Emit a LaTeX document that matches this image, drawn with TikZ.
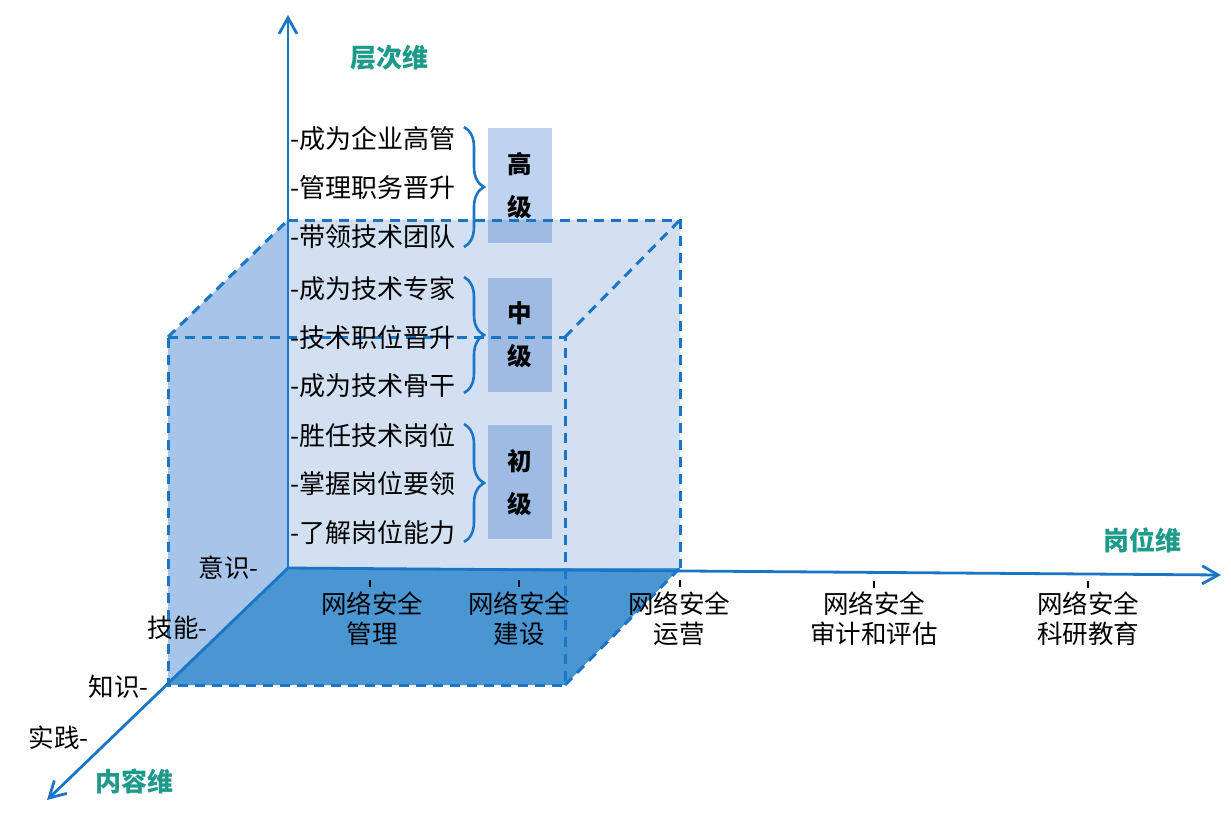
\documentclass[tikz,border=0pt]{standalone}
\usepackage{fontspec}
\setmainfont{Noto Sans CJK SC}
\usetikzlibrary{decorations.pathreplacing,arrows.meta}
\definecolor{axisblue}{HTML}{1A75C6}
\definecolor{backface}{HTML}{D3E0F2}
\definecolor{leftface}{HTML}{A7C5E8}
\definecolor{bottomface}{HTML}{4A96D2}
\definecolor{boxlight}{HTML}{BED3EE}
\definecolor{boxdark}{HTML}{9DBBE3}
\definecolor{axisteal}{HTML}{1E9A8B}
\begin{document}
\begin{tikzpicture}[x=1pt,y=-1pt,
  axisline/.style={draw=axisblue, line width=2.8pt, -{Straight Barb[length=16pt,width=18pt,line width=2.8pt]}},
  cubeedge/.style={draw=axisblue, line width=3pt, dash pattern=on 10pt off 7pt},
  item/.style={anchor=west, inner sep=0pt, font=\fontsize{26}{30}\selectfont},
  sidelabel/.style={anchor=east, inner sep=0pt, font=\fontsize{25.5}{30}\selectfont},
  ticklabel/.style={anchor=north, inner sep=0pt, align=center, font=\fontsize{25.5}{30}\selectfont},
  dimlabel/.style={inner sep=0pt, text=axisteal, font=\fontsize{26}{30}\selectfont\bfseries},
  levelbox/.style={inner sep=0pt, align=center, font=\fontsize{24.5}{43}\selectfont\bfseries},
  bracket/.style={draw=axisblue, line width=2.6pt, decorate, decoration={brace, amplitude=20pt}},
  tickmark/.style={draw=black, line width=2.4pt}
]
\useasboundingbox (0,0) rectangle (1231,819);

% key points
\coordinate (O) at (288,568);
\coordinate (ztip) at (288,15);
\coordinate (xtip) at (1221,575);
\coordinate (ytip) at (47,800);
\coordinate (btl) at (288,220);
\coordinate (btr) at (680,220);
\coordinate (bbr) at (680,568);
\coordinate (ftl) at (168,337);
\coordinate (ftr) at (565,337);
\coordinate (fbl) at (168,685);
\coordinate (fbr) at (565,685);

% faces
\fill[backface] (btl) -- (btr) -- (bbr) -- (O) -- cycle;
\fill[leftface] (btl) -- (O) -- (fbl) -- (ftl) -- cycle;
\fill[bottomface] (O) -- (bbr) -- (fbr) -- (fbl) -- cycle;

% level boxes
\fill[boxlight] (488,128) rectangle (552,220);
\fill[boxdark] (488,220) rectangle (552,243);
\fill[boxdark] (488,278) rectangle (552,392);
\fill[boxdark] (488,425) rectangle (552,539);

% dashed cube edges
\draw[cubeedge] (btl) -- (btr) -- (bbr);
\draw[cubeedge] (ftl) -- (ftr) -- (fbr) -- (fbl) -- cycle;
\draw[cubeedge] (ftl) -- (btl);
\draw[cubeedge] (ftr) -- (btr);
\draw[cubeedge] (fbr) -- (bbr);

% axes
\draw[axisline] (O) -- (ztip);
\draw[axisline] (O) -- (xtip);
\draw[axisline] (O) -- (ytip);

% axis names
\node[dimlabel] (zname) at (389,58) {层次维};
\node[dimlabel] (xname) at (1142,540) {岗位维};
\node[dimlabel] (yname) at (134,781) {内容维};

% level items
\node[item] (i1) at (290,139) {-成为企业高管};
\node[item] (i2) at (290,188) {-管理职务晋升};
\node[item] (i3) at (290,237) {-带领技术团队};
\node[item] (i4) at (290,289) {-成为技术专家};
\node[item] (i5) at (290,338) {-技术职位晋升};
\node[item] (i6) at (290,386) {-成为技术骨干};
\node[item] (i7) at (290,436) {-胜任技术岗位};
\node[item] (i8) at (290,484) {-掌握岗位要领};
\node[item] (i9) at (290,533) {-了解岗位能力};

% braces
\draw[bracket] (464,127) -- (464,247);
\draw[bracket] (464,277) -- (464,393);
\draw[bracket] (464,424) -- (464,542);

% level box labels
\node[levelbox] (high) at (520,186) {高\\级};
\node[levelbox] (mid) at (520,335) {中\\级};
\node[levelbox] (low) at (520,483) {初\\级};

% content axis labels
\node[sidelabel] (s1) at (259,568) {意识-};
\node[sidelabel] (s2) at (208,628) {技能-};
\node[sidelabel] (s3) at (149,687) {知识-};
\node[sidelabel] (s4) at (89,738) {实践-};

% ticks on the post axis
\draw[tickmark] (370,580) -- (370,587);
\draw[tickmark] (519,580) -- (519,587);
\draw[tickmark] (680,580) -- (680,587);
\draw[tickmark] (874,581) -- (874,588);
\draw[tickmark] (1088,581) -- (1088,588);

\node[ticklabel] (t1) at (372,592) {网络安全\\管理};
\node[ticklabel] (t2) at (519,592) {网络安全\\建设};
\node[ticklabel] (t3) at (679,592) {网络安全\\运营};
\node[ticklabel] (t4) at (874,592) {网络安全\\审计和评估};
\node[ticklabel] (t5) at (1088,592) {网络安全\\科研教育};
\end{tikzpicture}
\end{document}
